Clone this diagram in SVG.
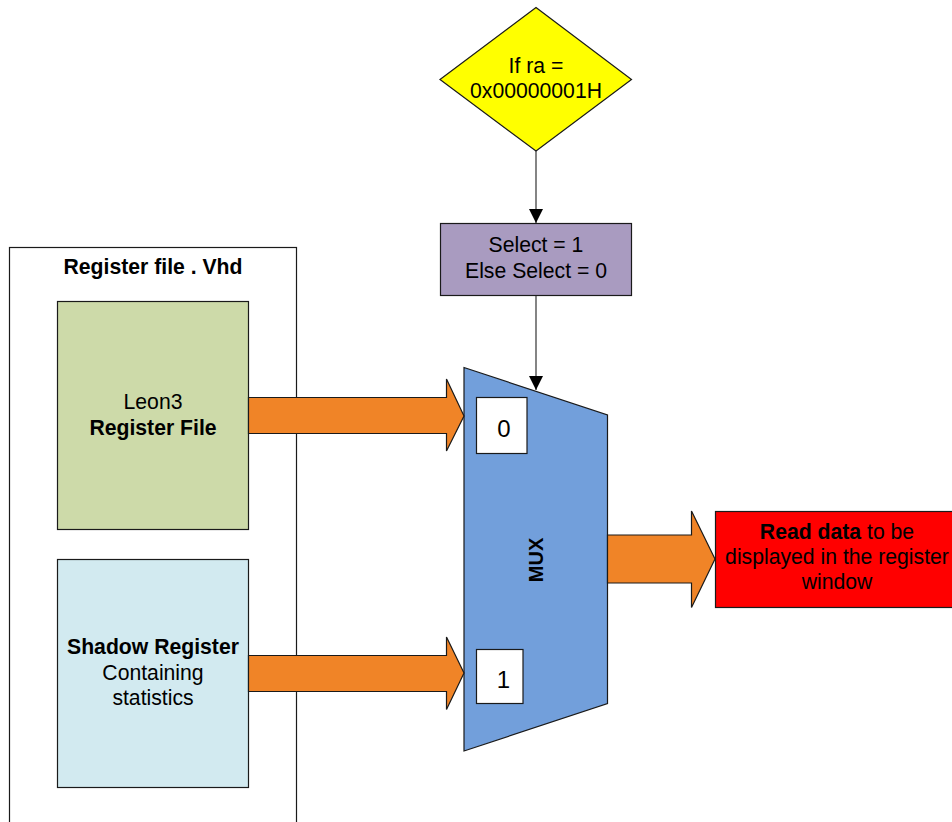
<svg xmlns="http://www.w3.org/2000/svg" width="952" height="822" viewBox="0 0 952 822">
<style>
  text { font-family: "Liberation Sans", Arial, sans-serif; font-size: 21.2px; fill: #000; }
  .b { font-weight: bold; }
  .box { stroke: #1a1a1a; stroke-width: 1.2; }
  .conn { stroke: #333; stroke-width: 1.2; fill: none; }
  .fat { fill: #f08427; stroke: #1a1a1a; stroke-width: 1.2; }
</style>
<defs>
  <marker id="ah" viewBox="0 0 10 10" refX="10" refY="5" markerWidth="14" markerHeight="14" markerUnits="userSpaceOnUse" orient="auto">
    <path d="M0,0 L10,5 L0,10 z" fill="#000"/>
  </marker>
</defs>
<rect width="952" height="822" fill="#fff"/>

<g id="container">
  <rect x="9.5" y="247.5" width="287" height="580" fill="#fff" class="box"/>
  <text x="153" y="274" text-anchor="middle" class="b">Register file . Vhd</text>
</g>

<g id="leon3">
  <rect x="57.5" y="301.5" width="191" height="228" fill="#cddaa9" class="box"/>
  <text x="153" y="409" text-anchor="middle">Leon3</text>
  <text x="153" y="434.5" text-anchor="middle" class="b">Register File</text>
</g>

<g id="shadow">
  <rect x="57.5" y="559.5" width="191" height="228" fill="#d2eaf0" class="box"/>
  <text x="153" y="654" text-anchor="middle" class="b">Shadow Register</text>
  <text x="153" y="680" text-anchor="middle">Containing</text>
  <text x="153" y="705" text-anchor="middle">statistics</text>
</g>

<g id="decision">
  <polygon points="536,7.5 631.5,79.5 536,151 440,79.5" fill="#ffff00" class="box"/>
  <text x="536" y="73" text-anchor="middle">If ra =</text>
  <text x="536" y="98" text-anchor="middle">0x00000001H</text>
</g>

<g id="select">
  <rect x="440.5" y="223.5" width="191" height="72" fill="#a99bc0" class="box"/>
  <text x="536" y="252" text-anchor="middle">Select = 1</text>
  <text x="536" y="278" text-anchor="middle">Else Select = 0</text>
</g>

<g id="mux">
  <polygon points="464,367.5 607.5,415 607.5,703.5 464,751" fill="#729fdb" class="box"/>
  <text transform="translate(542.5,560) rotate(-90)" text-anchor="middle" class="b" style="font-size:20px">MUX</text>
  <rect x="476.5" y="397.5" width="50.5" height="56" fill="#fff" class="box"/>
  <text x="504" y="436.5" text-anchor="middle" style="font-size:24px">0</text>
  <rect x="476.5" y="649.5" width="46.5" height="54" fill="#fff" class="box"/>
  <text x="503.5" y="687.5" text-anchor="middle" style="font-size:24px">1</text>
</g>

<g id="output">
  <rect x="715.5" y="511.5" width="250" height="96" fill="#ff0000" class="box"/>
  <text x="837" y="539" text-anchor="middle"><tspan class="b">Read data</tspan> to be</text>
  <text x="837" y="564" text-anchor="middle">displayed in the register</text>
  <text x="837" y="589" text-anchor="middle">window</text>
</g>

<g id="connectors">
  <line x1="536" y1="151" x2="536" y2="223" class="conn" marker-end="url(#ah)"/>
  <line x1="536" y1="296" x2="536" y2="390" class="conn" marker-end="url(#ah)"/>
  <polygon class="fat" points="248.5,397.5 446.5,397.5 446.5,379 464,416 446.5,451 446.5,433.5 248.5,433.5"/>
  <polygon class="fat" points="248.5,655.5 446.5,655.5 446.5,637 464,673 446.5,709.5 446.5,691.5 248.5,691.5"/>
  <polygon class="fat" points="607.5,535 691.5,535 691.5,511 715,559 691.5,607.5 691.5,583 607.5,583"/>
</g>
</svg>
